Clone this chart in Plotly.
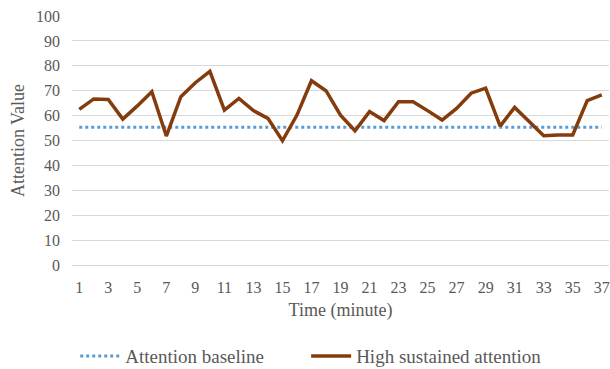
import plotly.graph_objects as go

minutes = list(range(1, 38))
high_sustained = [62.5, 66.7, 66.5, 58.6, 63.9, 69.6, 51.8, 67.6, 73.2, 77.8,
                  62.2, 66.9, 62.0, 58.9, 49.9, 60.2, 74.0, 70.0, 60.2, 53.9,
                  61.6, 58.0, 65.6, 65.6, 62.0, 58.2, 62.9, 69.0, 71.0, 55.8,
                  63.3, 57.6, 51.9, 52.2, 52.2, 66.0, 68.3]
baseline_value = 55.3
baseline = [baseline_value] * len(minutes)
x_ticks = list(range(1, 38, 2))
y_ticks = list(range(0, 101, 10))

font_family = "Liberation Serif, Times New Roman, serif"
text_color = "#595959"

fig = go.Figure()
fig.add_trace(go.Scatter(
    x=minutes, y=baseline, mode="lines", name="Attention baseline",
    line=dict(color="#5B9BD5", width=3, dash="dot"), legend="legend",
))
fig.add_trace(go.Scatter(
    x=minutes, y=high_sustained, mode="lines", name="High sustained attention",
    line=dict(color="#843C0C", width=3.5), legend="legend2",
))

legend_common = dict(orientation="h", xanchor="left",
                     yref="container", y=0.035, yanchor="middle",
                     font=dict(size=19, color=text_color), itemwidth=40,
                     bgcolor="rgba(0,0,0,0)")

fig.update_layout(
    width=610, height=369,
    margin=dict(l=72, r=1, t=16, b=104),
    paper_bgcolor="white", plot_bgcolor="white",
    font=dict(family=font_family, color=text_color, size=16),
    showlegend=True,
    legend=dict(x=0.006, **legend_common),
    legend2=dict(x=0.436, **legend_common),
    xaxis=dict(
        range=[0.5, 37.5], tickvals=x_ticks, ticktext=[str(v) for v in x_ticks],
        showgrid=False, zeroline=False, showline=False, ticks="",
        ticklabelstandoff=11, automargin=False,
        tickfont=dict(size=16, color=text_color),
        title=dict(text="Time (minute)", font=dict(size=18, color=text_color), standoff=8),
    ),
    yaxis=dict(
        range=[0, 100], tickvals=y_ticks,
        showgrid=True, gridcolor="#D9D9D9", gridwidth=1,
        zeroline=True, zerolinecolor="#D9D9D9", zerolinewidth=1,
        showline=False, ticks="",
        ticklabelstandoff=11, automargin=False,
        tickfont=dict(size=16, color=text_color),
        title=dict(text="Attention Value", font=dict(size=18, color=text_color), standoff=6),
    ),
)

fig.write_html("out.html", config={"displayModeBar": False},
               post_script="document.body.style.margin='0';")
